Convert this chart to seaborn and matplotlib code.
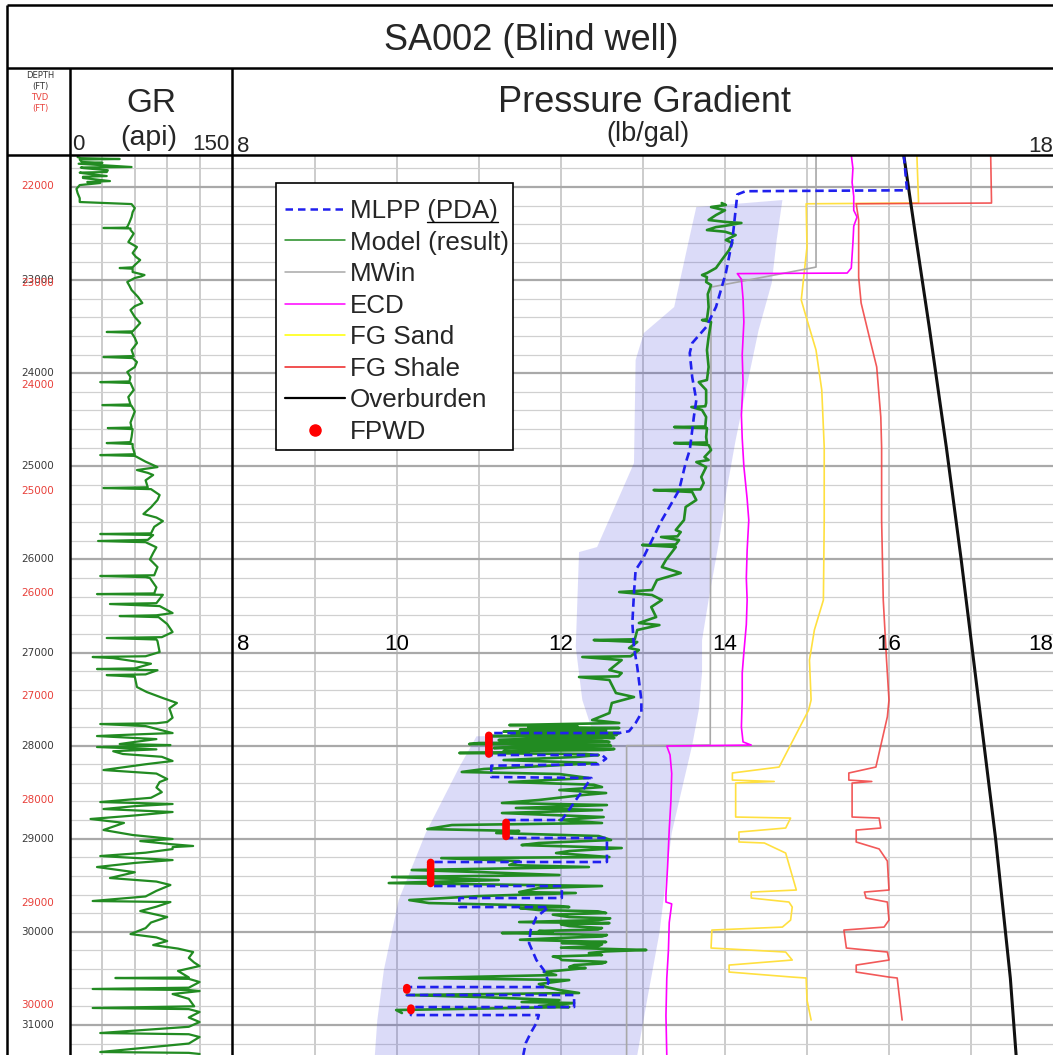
import matplotlib
matplotlib.use("Agg")
import matplotlib.pyplot as plt
import matplotlib.transforms as mtransforms
from matplotlib.lines import Line2D
from matplotlib.patches import Rectangle
import seaborn as sns

sns.set_style("white")
plt.rcParams["font.family"] = ["Liberation Sans", "DejaVu Sans"]

# ---------------- data (depth in ft MD, pressure in lb/gal) ----------------
depth_top, depth_bottom = 21656, 31323

md_labels = [23000, 24000, 25000, 26000, 27000, 28000, 29000, 30000, 31000]
tvd_labels = [22000, 23000, 24000, 25000, 26000, 27000, 28000, 29000, 30000]
tvd_label_md = [21990, 23030, 24130, 25260, 26360, 27470, 28580, 29690, 30790]
mid_scale = [8, 10, 12, 14, 16, 18]

gr_log = [(21678, 7), (21690, 10), (21699, 46), (21705, 9), (21731, 11), (21740, 30), (21750, 8), (21785, 57),
          (21790, 10), (21796, 12), (21820, 35), (21839, 34), (21845, 9), (21850, 11), (21882, 34), (21890, 12),
          (21903, 12), (21936, 37), (21946, 16), (21957, 28), (21979, 9), (22020, 6), (22064, 7), (22120, 9),
          (22161, 9), (22175, 40), (22183, 57), (22226, 60), (22270, 58), (22322, 57), (22380, 55), (22430, 53),
          (22436, 53), (22440, 31), (22445, 56), (22462, 56), (22500, 59), (22537, 57), (22591, 54), (22644, 62),
          (22709, 58), (22750, 61), (22784, 65), (22838, 60), (22862, 58), (22870, 46), (22878, 58), (22913, 58),
          (22945, 69), (22960, 66), (22977, 60), (23020, 53), (23060, 55), (23106, 57), (23181, 63), (23246, 67),
          (23280, 60), (23321, 56), (23396, 60), (23461, 65), (23550, 58), (23557, 34), (23565, 57), (23620, 60),
          (23676, 62), (23751, 57), (23815, 59), (23826, 31), (23837, 58), (23880, 62), (23933, 60), (23987, 53),
          (24040, 56), (24088, 55), (24095, 28), (24105, 56), (24180, 59), (24256, 54), (24335, 56), (24342, 30),
          (24350, 57), (24410, 60), (24470, 58), (24530, 56), (24583, 57), (24589, 35), (24600, 58), (24685, 57),
          (24740, 56), (24750, 34), (24760, 58), (24793, 58), (24870, 60), (24879, 28), (24888, 60), (24900, 62),
          (24950, 70), (25008, 81), (25040, 62), (25070, 72), (25093, 77), (25150, 70), (25225, 72), (25233, 31),
          (25245, 75), (25308, 83), (25362, 81), (25440, 75), (25512, 68), (25550, 80), (25588, 86), (25650, 78),
          (25720, 75), (25727, 28), (25738, 77), (25790, 72), (25802, 26), (25815, 70), (25870, 80), (25931, 77),
          (26000, 74), (26082, 81), (26170, 78), (26178, 28), (26190, 70), (26200, 74), (26300, 80), (26365, 78),
          (26372, 25), (26380, 86), (26470, 80), (26479, 37), (26501, 83), (26576, 95), (26600, 80), (26608, 46),
          (26620, 82), (26694, 90), (26780, 95), (26835, 85), (26844, 34), (26860, 80), (26877, 81), (26995, 83),
          (27040, 70), (27048, 21), (27060, 40), (27120, 75), (27170, 60), (27177, 25), (27190, 81), (27235, 70),
          (27242, 34), (27260, 60), (27371, 62), (27424, 71), (27489, 86), (27542, 99), (27600, 92), (27700, 95),
          (27746, 90), (27760, 80), (27768, 28), (27790, 70), (27865, 95), (27880, 60), (27897, 25), (27930, 80),
          (27960, 60), (27983, 46), (27994, 93), (28005, 70), (28015, 25), (28040, 80), (28060, 40), (28090, 49),
          (28120, 85), (28165, 95), (28200, 70), (28262, 31), (28300, 80), (28359, 90), (28391, 83), (28450, 80),
          (28500, 85), (28560, 75), (28606, 28), (28627, 95), (28650, 60), (28681, 31), (28713, 95), (28750, 60),
          (28788, 19), (28830, 50), (28870, 40), (28906, 31), (28960, 58), (29003, 95), (29025, 65), (29060, 95),
          (29078, 114), (29090, 95), (29111, 95), (29150, 70), (29186, 28), (29229, 95), (29260, 60), (29304, 25),
          (29360, 60), (29422, 37), (29460, 80), (29497, 93), (29560, 80), (29620, 70), (29669, 21), (29680, 93),
          (29730, 80), (29777, 65), (29841, 90), (29900, 75), (29960, 70), (30024, 56), (30060, 80), (30099, 90),
          (30142, 77), (30180, 100), (30217, 114), (30280, 110), (30330, 115), (30367, 120), (30420, 100),
          (30490, 110), (30496, 42), (30505, 110), (30539, 120), (30600, 110), (30614, 21), (30625, 110),
          (30636, 120), (30668, 95), (30720, 110), (30800, 115), (30818, 21), (30830, 110), (30861, 120),
          (30920, 110), (30969, 120), (31020, 110), (31087, 28), (31100, 110), (31130, 120), (31200, 110),
          (31291, 28), (31300, 110), (31312, 120)]

model_log = [(22172, 13.96), (22193, 14.01), (22215, 13.83), (22250, 14.00), (22301, 13.89), (22354, 13.80),
             (22376, 14.02), (22386, 14.20), (22420, 13.98), (22430, 13.89), (22462, 13.78), (22480, 14.00),
             (22516, 14.13), (22569, 14.01), (22601, 14.09), (22677, 14.05), (22784, 13.96), (22870, 13.89),
             (22924, 13.78), (22945, 13.72), (22967, 13.78), (23020, 13.77), (23053, 13.83), (23150, 13.79),
             (23289, 13.80), (23420, 13.78), (23429, 13.72), (23450, 13.83), (23611, 13.80), (23751, 13.78),
             (23933, 13.80), (24073, 13.78), (24095, 13.68), (24180, 13.77), (24320, 13.77), (24355, 13.76),
             (24363, 13.59), (24395, 13.72), (24470, 13.77), (24572, 13.76), (24578, 13.38), (24589, 13.78),
             (24685, 13.77), (24744, 13.78), (24750, 13.38), (24771, 13.80), (24825, 13.83), (24900, 13.75),
             (24932, 13.80), (24954, 13.65), (25008, 13.77), (25115, 13.71), (25179, 13.74), (25248, 13.70),
             (25255, 13.13), (25276, 13.60), (25362, 13.65), (25437, 13.52), (25577, 13.50), (25684, 13.40),
             (25706, 13.46), (25752, 13.42), (25759, 13.22), (25792, 13.44), (25839, 13.40), (25845, 12.99),
             (25867, 13.40), (26006, 13.28), (26082, 13.23), (26146, 13.46), (26221, 13.17), (26329, 13.11),
             (26350, 12.71), (26382, 13.11), (26436, 13.23), (26511, 13.10), (26619, 13.16), (26683, 12.95),
             (26705, 13.20), (26758, 12.93), (26858, 12.90), (26866, 12.40), (26887, 12.93), (26952, 12.83),
             (26973, 12.95), (27040, 12.85), (27048, 12.26), (27081, 12.74), (27188, 12.59), (27220, 12.74),
             (27256, 12.70), (27263, 12.22), (27295, 12.59), (27435, 12.67), (27478, 12.89), (27542, 12.62),
             (27650, 12.59), (27725, 12.38), (27757, 12.71), (27779, 11.37), (27790, 12.20), (27800, 11.60),
             (27811, 12.71), (27825, 11.50), (27835, 12.55), (27843, 11.98), (27850, 11.30), (27865, 12.71),
             (27875, 11.40), (27885, 12.68), (27897, 11.12), (27905, 12.30), (27918, 12.65), (27928, 11.60),
             (27940, 11.24), (27950, 12.50), (27961, 12.59), (27972, 11.00), (27983, 10.88), (27993, 12.60),
             (28004, 12.61), (28015, 11.40), (28026, 11.18), (28036, 12.65), (28047, 12.52), (28058, 11.30),
             (28068, 11.60), (28079, 10.76), (28090, 12.30), (28101, 12.46), (28122, 12.18), (28155, 11.30),
             (28187, 12.43), (28219, 11.79), (28251, 11.06), (28283, 10.79), (28305, 11.98), (28348, 12.34),
             (28391, 11.37), (28420, 12.40), (28445, 12.50), (28477, 11.98), (28509, 12.55), (28531, 12.26),
             (28584, 11.73), (28616, 11.28), (28638, 12.56), (28670, 11.45), (28692, 12.50), (28724, 11.28),
             (28767, 12.52), (28799, 11.98), (28831, 12.50), (28853, 10.67), (28896, 10.37), (28917, 11.49),
             (28939, 11.21), (28971, 12.46), (29014, 12.61), (29046, 11.73), (29068, 11.52), (29100, 12.74),
             (29132, 12.10), (29154, 11.94), (29197, 12.59), (29208, 10.54), (29240, 11.49), (29283, 11.37),
             (29304, 12.34), (29336, 10.18), (29358, 11.00), (29390, 11.98), (29411, 9.94), (29444, 11.24),
             (29476, 9.90), (29508, 12.50), (29530, 11.73), (29573, 11.49), (29583, 12.18), (29616, 11.00),
             (29659, 10.15), (29691, 10.39), (29723, 11.98), (29734, 12.10), (29745, 11.50), (29766, 11.73),
             (29780, 12.45), (29798, 12.55), (29815, 11.90), (29841, 12.10), (29855, 12.60), (29874, 12.46),
             (29895, 11.49), (29906, 12.59), (29920, 12.00), (29938, 12.10), (29959, 12.50), (29975, 12.45),
             (29991, 11.73), (30000, 11.90), (30013, 11.28), (30034, 12.56), (30050, 12.50), (30066, 11.98),
             (30085, 11.50), (30109, 12.55), (30120, 12.01), (30135, 12.50), (30152, 12.46), (30170, 12.00),
             (30195, 13.04), (30210, 12.55), (30228, 12.34), (30249, 12.50), (30265, 11.90), (30281, 11.98),
             (30303, 12.01), (30324, 12.55), (30340, 12.50), (30357, 12.16), (30378, 12.10), (30389, 12.30),
             (30432, 11.79), (30464, 11.94), (30496, 10.27), (30518, 12.10), (30561, 11.73), (30593, 11.82),
             (30625, 11.98), (30657, 12.22), (30679, 10.12), (30700, 11.00), (30733, 11.98), (30754, 11.52),
             (30765, 12.16), (30797, 11.73), (30808, 12.10), (30840, 9.99), (30872, 10.06)]

mlpp_log = [(21656, 16.18), (22035, 16.22), (22045, 14.25), (22080, 14.15), (22569, 14.09), (22924, 14.01),
            (23289, 13.89), (23504, 13.77), (23676, 13.60), (23783, 13.57), (24041, 13.60), (24288, 13.65),
            (24470, 13.62), (24685, 13.59), (24825, 13.57), (24965, 13.52), (25255, 13.44), (25394, 13.35),
            (25577, 13.23), (25792, 13.11), (26006, 12.99), (26114, 12.91), (26361, 12.89), (26683, 12.87),
            (26941, 12.89), (27156, 12.93), (27510, 12.98), (27650, 12.98), (27757, 12.91), (27845, 12.83),
            (27865, 12.71), (27865, 11.15), (28101, 11.15), (28101, 12.50), (28140, 12.55), (28200, 12.46),
            (28215, 11.15), (28337, 11.15), (28348, 12.37), (28799, 12.01), (28799, 11.33), (28992, 11.33),
            (28992, 12.56), (29250, 12.56), (29250, 10.41), (29508, 10.41), (29508, 12.01), (29637, 12.01),
            (29637, 10.76), (29734, 10.76), (29734, 11.85), (29841, 11.70), (29981, 11.63), (30120, 11.61),
            (30303, 11.70), (30410, 11.79), (30539, 11.85), (30593, 11.82), (30593, 10.12), (30679, 10.12),
            (30679, 12.16), (30808, 12.16), (30808, 10.17), (30894, 10.17), (30894, 11.73), (30980, 11.70),
            (31087, 11.63), (31195, 11.57), (31323, 11.54)]

mwin_log = [(21656, 15.11), (22860, 15.11), (23075, 13.83), (27994, 13.82), (28000, 12.80), (31323, 12.80)]

ecd_log = [(21656, 15.54), (21800, 15.56), (21950, 15.55), (22100, 15.57), (22250, 15.57), (22322, 15.61),
           (22420, 15.57), (22600, 15.56), (22870, 15.54), (22924, 15.49), (22930, 14.15), (22990, 14.20),
           (23200, 14.22), (23450, 14.23), (23800, 14.21), (24100, 14.22), (24450, 14.20), (24700, 14.21),
           (25000, 14.23), (25350, 14.27), (25577, 14.29), (25900, 14.27), (26200, 14.26), (26436, 14.27),
           (26700, 14.26), (27000, 14.23), (27220, 14.21), (27500, 14.21), (27800, 14.20), (27960, 14.22),
           (27994, 14.32), (28004, 13.29), (28100, 13.33), (28300, 13.35), (28600, 13.34), (28900, 13.32),
           (29300, 13.30), (29600, 13.28), (29680, 13.28), (29700, 13.35), (29900, 13.32), (30200, 13.31),
           (30500, 13.29), (30900, 13.28), (31323, 13.29)]

fg_sand_log = [(21656, 16.34), (22150, 16.36), (22172, 16.36), (22180, 14.99), (22644, 15.00), (22967, 14.96),
               (23214, 14.93), (23396, 14.99), (23751, 15.11), (24180, 15.18), (24793, 15.21), (25577, 15.21),
               (26436, 15.20), (26758, 15.09), (27081, 15.03), (27510, 15.05), (27618, 15.02), (28230, 14.66),
               (28294, 14.09), (28370, 14.09), (28385, 14.60), (28402, 14.13), (28767, 14.13), (28778, 14.80),
               (28885, 14.74), (28928, 14.17), (29035, 14.17), (29046, 14.48), (29154, 14.74), (29551, 14.87),
               (29573, 14.32), (29637, 14.32), (29680, 14.78), (29734, 14.82), (29874, 14.80), (29949, 14.70),
               (29981, 13.84), (30174, 13.83), (30217, 14.74), (30303, 14.82), (30357, 14.05), (30432, 14.05),
               (30486, 14.82), (30496, 14.99), (30733, 15.00), (30947, 15.05)]

fg_shale_log = [(21656, 17.24), (22150, 17.25), (22172, 17.25), (22180, 15.60), (22354, 15.63), (22967, 15.63),
                (23246, 15.66), (23611, 15.76), (23933, 15.85), (24470, 15.90), (24793, 15.91), (25577, 15.91),
                (26436, 15.93), (27081, 15.97), (27510, 16.00), (27690, 15.98), (28230, 15.84), (28294, 15.51),
                (28370, 15.51), (28385, 15.79), (28402, 15.55), (28767, 15.55), (28778, 15.88), (28885, 15.90),
                (28907, 15.60), (29035, 15.60), (29110, 15.88), (29240, 15.98), (29551, 16.00), (29573, 15.70),
                (29637, 15.72), (29680, 15.98), (29874, 16.00), (29949, 15.94), (29981, 15.45), (30174, 15.48),
                (30217, 15.98), (30303, 16.00), (30357, 15.60), (30432, 15.60), (30486, 16.00), (30496, 16.10),
                (30647, 16.12), (30947, 16.16)]

overburden_log = [(21656, 16.18), (22500, 16.32), (23500, 16.49), (24800, 16.70), (26000, 16.88),
                  (27500, 17.09), (29000, 17.30), (30500, 17.48), (31323, 17.55)]

fpwd_points = [(27890, 11.12), (27915, 11.12), (27940, 11.12), (27965, 11.12), (27990, 11.12), (28015, 11.12),
               (28040, 11.12), (28065, 11.12), (28090, 11.12), (28825, 11.33), (28850, 11.33), (28875, 11.33),
               (28900, 11.33), (28925, 11.33), (28950, 11.33), (28975, 11.33), (29255, 10.41), (29280, 10.41),
               (29305, 10.41), (29330, 10.41), (29355, 10.41), (29380, 10.41), (29405, 10.41), (29430, 10.41),
               (29455, 10.41), (29480, 10.41), (30600, 10.12), (30625, 10.12), (30820, 10.17), (30845, 10.17)]

# uncertainty band around the MLPP prediction
shade_left = [(22215, 13.65), (22569, 13.56), (23289, 13.38), (23568, 13.01), (23858, 12.91), (24965, 12.89),
              (25867, 12.44), (25921, 12.22), (26941, 12.18), (27510, 12.26), (27725, 12.34), (27880, 12.40),
              (27900, 10.97), (28230, 10.76), (28939, 10.35), (29659, 10.02), (30410, 9.84), (30947, 9.76),
              (31323, 9.73)]
shade_right = [(22140, 14.70), (22569, 14.63), (23031, 14.57), (23536, 14.41), (24288, 14.23), (24718, 14.13),
               (25255, 14.02), (25792, 13.93), (26436, 13.80), (26866, 13.72), (27220, 13.72), (27618, 13.68),
               (27994, 13.60), (28370, 13.50), (28939, 13.35), (30013, 13.20), (30733, 13.05), (31323, 12.93)]

legend_labels = ["MLPP (PDA)", "Model (result)", "MWin", "ECD", "FG Sand", "FG Shale", "Overburden", "FPWD"]

# ---------------- styling ----------------
C_MLPP = "#2020ee"
C_MODEL = "#228b22"
C_MWIN = "#a8a8a8"
C_ECD = "#ff00ff"
C_SAND = "#ffe040"
C_SHALE = "#f03c3c"
C_OB = "#111111"
C_FPWD = "#ff0000"

W, H = 1053, 1055


def fx(px):
    return px / W


def fy(py):
    return 1 - py / H


def split(pairs):
    d, v = zip(*pairs)
    return list(d), list(v)


def style_track(ax, xlim, xgrid):
    ax.set_ylim(depth_bottom, depth_top)
    ax.set_xlim(*xlim)
    ax.set_yticks(range(22000, 31400, 1000))
    ax.set_yticks(range(21800, 31400, 200), minor=True)
    ax.set_xticks(xgrid)
    ax.grid(which="major", axis="y", color="#a9a9a9", lw=1.6, zorder=0)
    ax.grid(which="minor", axis="y", color="#d0d0d0", lw=0.9, zorder=0)
    ax.grid(which="major", axis="x", color="#c4c4c4", lw=1.2, zorder=0)
    ax.tick_params(which="both", length=0, labelleft=False, labelbottom=False)
    ax.set_xlabel("")
    ax.set_ylabel("")
    for s in ax.spines.values():
        s.set_visible(False)
    ax.set_axisbelow(True)


fig = plt.figure(figsize=(W / 100, H / 100), dpi=100)
ax_d = fig.add_axes([fx(7), 0, fx(70) - fx(7), fy(155)])
ax_gr = fig.add_axes([fx(70), 0, fx(232) - fx(70), fy(155)])
ax_p = fig.add_axes([fx(233), 0, fx(1053) - fx(233), fy(155)])

# depth track
ax_d.set_ylim(depth_bottom, depth_top)
ax_d.set_xlim(0, 1)
ax_d.axis("off")
tr_d = mtransforms.blended_transform_factory(ax_d.transAxes, ax_d.transData)
for md in md_labels:
    ax_d.text(0.49, md, str(md), transform=tr_d, ha="center", va="center", fontsize=7.5,
              color="#3a3a3a", family="DejaVu Sans")
for md, tvd in zip(tvd_label_md, tvd_labels):
    ax_d.text(0.49, md, str(tvd), transform=tr_d, ha="center", va="center", fontsize=7.5,
              color="#e8403a", family="DejaVu Sans")

# GR track
style_track(ax_gr, (0, 150), [30, 60, 90, 120])
gd, gv = split(gr_log)
sns.lineplot(x=gv, y=gd, sort=False, estimator=None, ax=ax_gr, color=C_MODEL, lw=1.6, legend=False)
ax_gr.set_ylim(depth_bottom, depth_top)

# pressure track
style_track(ax_p, (8, 18), list(range(9, 18)))
ld, lv = split(shade_left)
rd, rv = split(shade_right)
ax_p.fill(rv + lv[::-1], rd + ld[::-1], color="#3c3cdc", alpha=0.18, lw=0, zorder=1)

for log, col, lw, extra in [
    (fg_sand_log, C_SAND, 1.2, {}),
    (fg_shale_log, C_SHALE, 1.2, {"alpha": 0.85}),
    (overburden_log, C_OB, 2.2, {}),
    (mwin_log, C_MWIN, 1.2, {}),
    (ecd_log, C_ECD, 1.2, {}),
    (model_log, C_MODEL, 1.9, {}),
    (mlpp_log, C_MLPP, 1.9, {"linestyle": (0, (3.2, 1.8))}),
]:
    d, v = split(log)
    sns.lineplot(x=v, y=d, sort=False, estimator=None, ax=ax_p, color=col, lw=lw, legend=False, **extra)

fd, fv = split(fpwd_points)
sns.scatterplot(x=fv, y=fd, ax=ax_p, color=C_FPWD, s=30, edgecolor="none", zorder=6, legend=False)
ax_p.set_ylim(depth_bottom, depth_top)
ax_p.set_xlim(8, 18)
ax_p.set_xlabel("")
ax_p.set_ylabel("")

mid_depth = 26919
for v in mid_scale:
    ha = "left" if v == 8 else ("right" if v == 18 else "center")
    xpos = 8.05 if v == 8 else v
    ax_p.text(xpos, mid_depth, str(v), ha=ha, va="center", fontsize=16, color="black", zorder=7)

# legend: box drawn separately so the padding matches the original
ax_p.add_patch(Rectangle((fx(276), fy(450)), fx(513) - fx(276), (450 - 183) / H, transform=fig.transFigure,
                         facecolor="white", edgecolor="black", lw=1.2, zorder=9, clip_on=False))
handles = [
    Line2D([], [], color=C_MLPP, lw=1.8, linestyle=(0, (3, 2))),
    Line2D([], [], color=C_MODEL, lw=1.1),
    Line2D([], [], color=C_MWIN, lw=1.1),
    Line2D([], [], color=C_ECD, lw=1.1),
    Line2D([], [], color="#ffff00", lw=1.1),
    Line2D([], [], color="#ee2222", lw=1.1),
    Line2D([], [], color="black", lw=1.6),
    Line2D([], [], color=C_FPWD, lw=0, marker="o", markersize=8),
]
leg = ax_p.legend(handles, legend_labels, loc="upper left", bbox_to_anchor=(fx(285), fy(199)),
                  bbox_transform=fig.transFigure, frameon=False, fontsize=18.7, handlelength=2.3,
                  handletextpad=0.2, labelspacing=0.29, borderpad=0, borderaxespad=0)
leg.set_zorder(10)

# frame lines of the log layout
border = dict(color="black", lw=1.8, transform=fig.transFigure, solid_capstyle="butt")
for (x0, y0, x1, y1) in [(7, 5, 1053, 5), (7, 68, 1053, 68), (7, 155, 1053, 155),
                         (7, 5, 7, 1055), (70, 68, 70, 1055), (232, 68, 232, 1055)]:
    fig.add_artist(Line2D([fx(x0), fx(x1)], [fy(y0), fy(y1)], **border))

# header texts
fig.text(fx(531), fy(40), "SA002 (Blind well)", ha="center", va="center", fontsize=26)
fig.text(fx(151), fy(103), "GR", ha="center", va="center", fontsize=24)
fig.text(fx(149), fy(138), "(api)", ha="center", va="center", fontsize=20.5)
fig.text(fx(72), fy(145), "0", ha="left", va="center", fontsize=16)
fig.text(fx(230), fy(145), "150", ha="right", va="center", fontsize=16)
fig.text(fx(645), fy(103), "Pressure Gradient", ha="center", va="center", fontsize=26)
fig.text(fx(648), fy(134), "(lb/gal)", ha="center", va="center", fontsize=19.5)
fig.text(fx(237), fy(146), "8", ha="left", va="center", fontsize=16)
fig.text(fx(1053), fy(146), "18", ha="right", va="center", fontsize=16)
for txt, yy, col in [("DEPTH", 75, "#333333"), ("(FT)", 87, "#333333"), ("TVD", 97, "#e8403a"),
                     ("(FT)", 108, "#e8403a")]:
    fig.text(fx(40), fy(yy), txt, ha="center", va="center", fontsize=6, color=col, family="DejaVu Sans")

# underline "(PDA)" in the legend
fig.canvas.draw()
renderer = fig.canvas.get_renderer()
t0 = leg.get_texts()[0]
bb = t0.get_window_extent(renderer)
w_pre, _, _ = renderer.get_text_width_height_descent("MLPP ", t0.get_fontproperties(), ismath=False)
fig.add_artist(Line2D([(bb.x0 + w_pre) / fig.bbox.width, bb.x1 / fig.bbox.width],
                      [(bb.y0 + 1) / fig.bbox.height] * 2, transform=fig.transFigure,
                      color="black", lw=1.0, zorder=11))

fig.savefig("out.png", dpi=100)
plt.close(fig)
